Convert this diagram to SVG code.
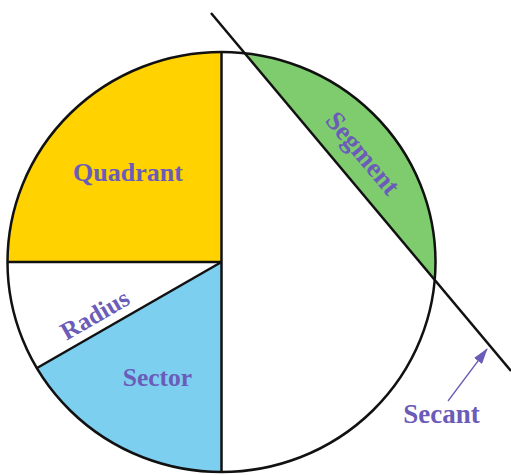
<svg xmlns="http://www.w3.org/2000/svg" width="511" height="475" viewBox="0 0 511 475">
<style>
.lbl{font-family:"Liberation Serif","Times New Roman",serif;font-weight:bold;fill:#6A5CB8;text-anchor:middle}
.ln{stroke:#111;stroke-width:2.5;fill:none}
</style>
<defs>
<marker id="ah" viewBox="0 0 10 10" refX="9" refY="5" markerWidth="10" markerHeight="8" markerUnits="userSpaceOnUse" orient="auto"><path d="M0,0 L10,5 L0,10 z" fill="#6A5CB8"/></marker>
<marker id="ah2" viewBox="0 0 16 10" refX="15" refY="5" markerWidth="16" markerHeight="10" markerUnits="userSpaceOnUse" orient="auto"><path d="M0,0 L16,5 L0,10 z" fill="#6A5CB8"/></marker>
</defs>
<rect width="511" height="475" fill="#fff"/>
<g id="circle">
<ellipse cx="221.5" cy="262" rx="214" ry="210" fill="#fff"/>
</g>
<g id="quadrant">
<path d="M221.5,262 L221.5,52 A214,210 0 0 0 7.5,262 Z" fill="#FFD200"/>
</g>
<g id="sector">
<path d="M221.5,262 L221.5,472 A214,210 0 0 1 37,368 Z" fill="#7DCFF0"/>
</g>
<g id="segment">
<path d="M246,54 A214,210 0 0 1 435.5,280 Z" fill="#7FCC6E"/>
</g>
<g id="connectors">
<ellipse class="ln" cx="221.5" cy="262" rx="214" ry="210"/>
<line class="ln" x1="221.5" y1="52" x2="221.5" y2="472"/>
<line class="ln" x1="7.5" y1="262" x2="221.5" y2="262"/>
<line class="ln" x1="37" y1="368" x2="221.5" y2="262"/>
<line class="ln" x1="211" y1="13" x2="511" y2="371"/>
<line x1="448" y1="401" x2="487" y2="349" stroke="#6A5CB8" stroke-width="1.3" marker-end="url(#ah2)"/>
</g>
<g id="labels">
<text class="lbl" x="128" y="181" font-size="26">Quadrant</text>
<text class="lbl" x="157.5" y="386" font-size="25.5">Sector</text>
<text class="lbl" x="441.5" y="423" font-size="27">Secant</text>
<text class="lbl" font-size="25" transform="translate(99,322) rotate(-30)">Radius</text>
<text class="lbl" font-size="27" transform="translate(356,159) rotate(50)">Segment</text>
</g>
</svg>
